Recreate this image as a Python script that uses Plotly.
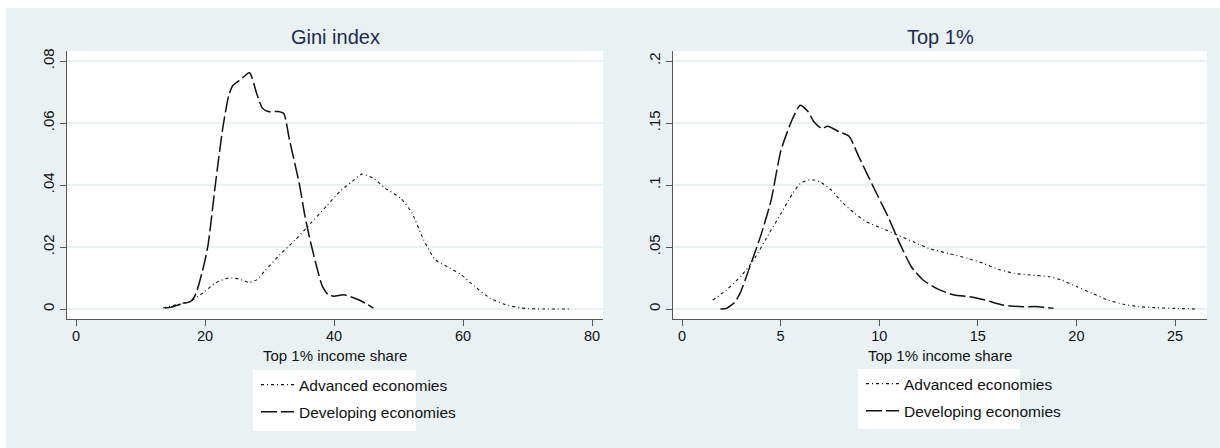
import plotly.graph_objects as go

W, H = 1220, 448

# ---------------- data ----------------
gini_dev_x = [13.8, 14.7, 16.5, 17.8, 18.6, 19.9, 20.5, 21.6, 22.8, 23.7, 24.3, 25.5, 26.9,
              28.0, 28.9, 29.8, 31.3, 32.2, 33.1, 34.6, 35.5, 36.4, 37.3, 38.2, 39.1, 40.0,
              41.5, 42.8, 44.3, 46.1]
gini_dev_y = [0.0003, 0.0006, 0.0017, 0.0025, 0.005, 0.0148, 0.021, 0.040, 0.059, 0.069,
              0.072, 0.074, 0.0762, 0.0696, 0.0648, 0.0637, 0.0637, 0.0631, 0.0545, 0.0406,
              0.0299, 0.0213, 0.0137, 0.0073, 0.0046, 0.0041, 0.0046, 0.0038, 0.0025, 0.0003]

gini_adv_x = [13.5, 15.6, 17.7, 19.8, 21.6, 23.7, 25.2, 26.8, 28.0, 29.2, 31.6, 34.0, 36.4,
              38.8, 40.9, 42.8, 44.3, 46.1, 47.9, 50.3, 52.1, 53.9, 55.7, 57.5, 59.7, 61.8,
              64.2, 66.6, 69.0, 72.6, 76.9]
gini_adv_y = [0.0003, 0.0014, 0.0025, 0.0054, 0.0084, 0.0100, 0.0097, 0.0086, 0.0094, 0.0121,
              0.0175, 0.0223, 0.0277, 0.0331, 0.0379, 0.0411, 0.0435, 0.0422, 0.0390, 0.0358,
              0.0309, 0.0223, 0.0159, 0.0137, 0.0111, 0.0073, 0.0035, 0.0014, 0.0003, 0.0,
              0.0]

top_dev_x = [1.95, 2.25, 2.65, 2.94, 3.44, 4.03, 4.52, 5.02, 5.61, 6.0, 6.4, 6.69, 7.09,
             7.39, 7.98, 8.47, 8.97, 9.46, 9.95, 10.45, 11.04, 11.63, 12.22, 13.01, 13.8,
             14.59, 15.38, 16.27, 17.26, 18.05, 18.84]
top_dev_y = [0.0, 0.0005, 0.005, 0.0126, 0.034, 0.061, 0.0878, 0.128, 0.1536, 0.1643, 0.159,
             0.151, 0.1455, 0.1474, 0.1428, 0.1393, 0.1227, 0.1066, 0.0905, 0.0744, 0.0529,
             0.0341, 0.0234, 0.0158, 0.0113, 0.0099, 0.0072, 0.0032, 0.0019, 0.0019, 0.0005]

top_adv_x = [1.56, 2.25, 3.04, 3.63, 4.42, 5.02, 5.61, 6.0, 6.5, 6.99, 7.58, 8.18, 8.77,
             9.36, 10.15, 10.94, 11.73, 12.52, 13.5, 14.49, 15.28, 16.07, 16.86, 17.65,
             18.64, 19.23, 20.02, 20.81, 21.6, 22.39, 23.18, 23.97, 24.96, 26.05]
top_adv_y = [0.0072, 0.0153, 0.0274, 0.0395, 0.061, 0.077, 0.0932, 0.1012, 0.1044, 0.1026,
             0.0958, 0.0851, 0.077, 0.0703, 0.065, 0.0596, 0.0542, 0.0489, 0.0448, 0.0408,
             0.0368, 0.0319, 0.0287, 0.0274, 0.026, 0.0234, 0.018, 0.0126, 0.0072, 0.0038,
             0.0019, 0.0011, 0.0005, 0.0]

panel_titles = ["Gini index", "Top 1%"]
x_title = "Top 1% income share"
series_names = ["Advanced economies", "Developing economies"]

gini_xticks = [0, 20, 40, 60, 80]
gini_yticks = [0, 0.02, 0.04, 0.06, 0.08]
gini_ytext = ["0", ".02", ".04", ".06", ".08"]
top_xticks = [0, 5, 10, 15, 20, 25]
top_yticks = [0, 0.05, 0.10, 0.15, 0.20]
top_ytext = ["0", ".05", ".1", ".15", ".2"]

# ---------------- styling ----------------
FONT = "Liberation Sans, Arial, Helvetica, sans-serif"
BG = "#E9F1F3"
AXC = "#555555"
TITLE_C = "#1c2b4f"
ADV_DASH = "3px,3px,1px,3px"
DEV_DASH = "16px,4px"


def fx(p):
    return p / W


def fy(p):
    return 1 - p / H


fig = go.Figure()

panels = [
    (gini_adv_x, gini_adv_y, gini_dev_x, gini_dev_y, "x", "y", "legend"),
    (top_adv_x, top_adv_y, top_dev_x, top_dev_y, "x2", "y2", "legend2"),
]
for i, (ax, ay, dx, dy, xa, ya, lg) in enumerate(panels):
    fig.add_trace(go.Scatter(
        x=ax, y=ay, mode="lines", name=series_names[0], xaxis=xa, yaxis=ya,
        line=dict(color="#111111", width=1.1, dash=ADV_DASH, shape="spline", smoothing=0.6),
        legend=lg, legendgroup=f"adv{i}", showlegend=True))
    fig.add_trace(go.Scatter(
        x=dx, y=dy, mode="lines", name=series_names[1], xaxis=xa, yaxis=ya,
        line=dict(color="#111111", width=1.5, dash=DEV_DASH, shape="spline", smoothing=0.6),
        legend=lg, legendgroup=f"dev{i}", showlegend=True))

ydom = [fy(319), fy(51)]
common_x = dict(showline=True, linecolor=AXC, linewidth=1, ticks="outside", ticklen=6,
                tickcolor=AXC, tickwidth=1, showgrid=False, zeroline=False,
                ticklabelstandoff=-2,
                tickfont=dict(family=FONT, size=14.5, color="#111111"), automargin=False)
common_y = dict(showline=True, linecolor=AXC, linewidth=1, ticks="outside", ticklen=6,
                tickcolor=AXC, tickwidth=1, showgrid=True, gridcolor=BG, gridwidth=1.5,
                zeroline=False, tickangle=-90,
                tickfont=dict(family=FONT, size=15, color="#111111"), automargin=False)

legend_common = dict(xanchor="left", yanchor="top", bgcolor="rgba(0,0,0,0)", borderwidth=0,
                     tracegroupgap=4, itemwidth=33,
                     font=dict(family=FONT, size=15.5, color="#111111"))

fig.update_layout(
    width=W, height=H,
    margin=dict(l=0, r=0, t=0, b=0),
    paper_bgcolor=BG, plot_bgcolor="white",
    font=dict(family=FONT, color="#111111"),
    xaxis=dict(domain=[fx(67), fx(603)], range=[-9 / 6.45, 80 + 11 / 6.45],
               tickvals=gini_xticks, anchor="y", **common_x),
    yaxis=dict(domain=ydom, range=[-10 / 3100, 0.08 + 10 / 3100],
               tickvals=gini_yticks, ticktext=gini_ytext, anchor="x", **common_y),
    xaxis2=dict(domain=[fx(673), fx(1207)], range=[-9 / 19.72, 25 + 32 / 19.72],
                tickvals=top_xticks, anchor="y2", **common_x),
    yaxis2=dict(domain=ydom, range=[-10 / 1240, 0.2 + 10 / 1240],
                tickvals=top_yticks, ticktext=top_ytext, anchor="x2", **common_y),
    legend=dict(x=fx(256), y=fy(368), **legend_common),
    legend2=dict(x=fx(861), y=fy(367), **legend_common),
    showlegend=True,
)

# decorative background pieces
shapes = [
    dict(type="rect", xref="paper", yref="paper", x0=0, x1=1, y0=fy(8), y1=1,
         fillcolor="white", line=dict(width=0), layer="below"),
    dict(type="rect", xref="paper", yref="paper", x0=0, x1=fx(6), y0=0, y1=1,
         fillcolor="white", line=dict(width=0), layer="below"),
    dict(type="rect", xref="paper", yref="paper", x0=fx(253), x1=fx(416), y0=fy(431), y1=fy(370),
         fillcolor="white", line=dict(width=0), layer="below"),
    dict(type="rect", xref="paper", yref="paper", x0=fx(858), x1=fx(1020), y0=fy(429), y1=fy(369),
         fillcolor="white", line=dict(width=0), layer="below"),
]
fig.update_layout(shapes=shapes)

annos = []
for cx, t in zip([335, 940], panel_titles):
    annos.append(dict(text=t, x=fx(cx), y=fy(37), xref="paper", yref="paper",
                      xanchor="center", yanchor="middle", showarrow=False,
                      font=dict(family=FONT, size=20, color=TITLE_C)))
    annos.append(dict(text=x_title, x=fx(cx), y=fy(355), xref="paper", yref="paper",
                      xanchor="center", yanchor="middle", showarrow=False,
                      font=dict(family=FONT, size=15, color="#111111")))
fig.update_layout(annotations=annos)

fig.write_html("out.html")
